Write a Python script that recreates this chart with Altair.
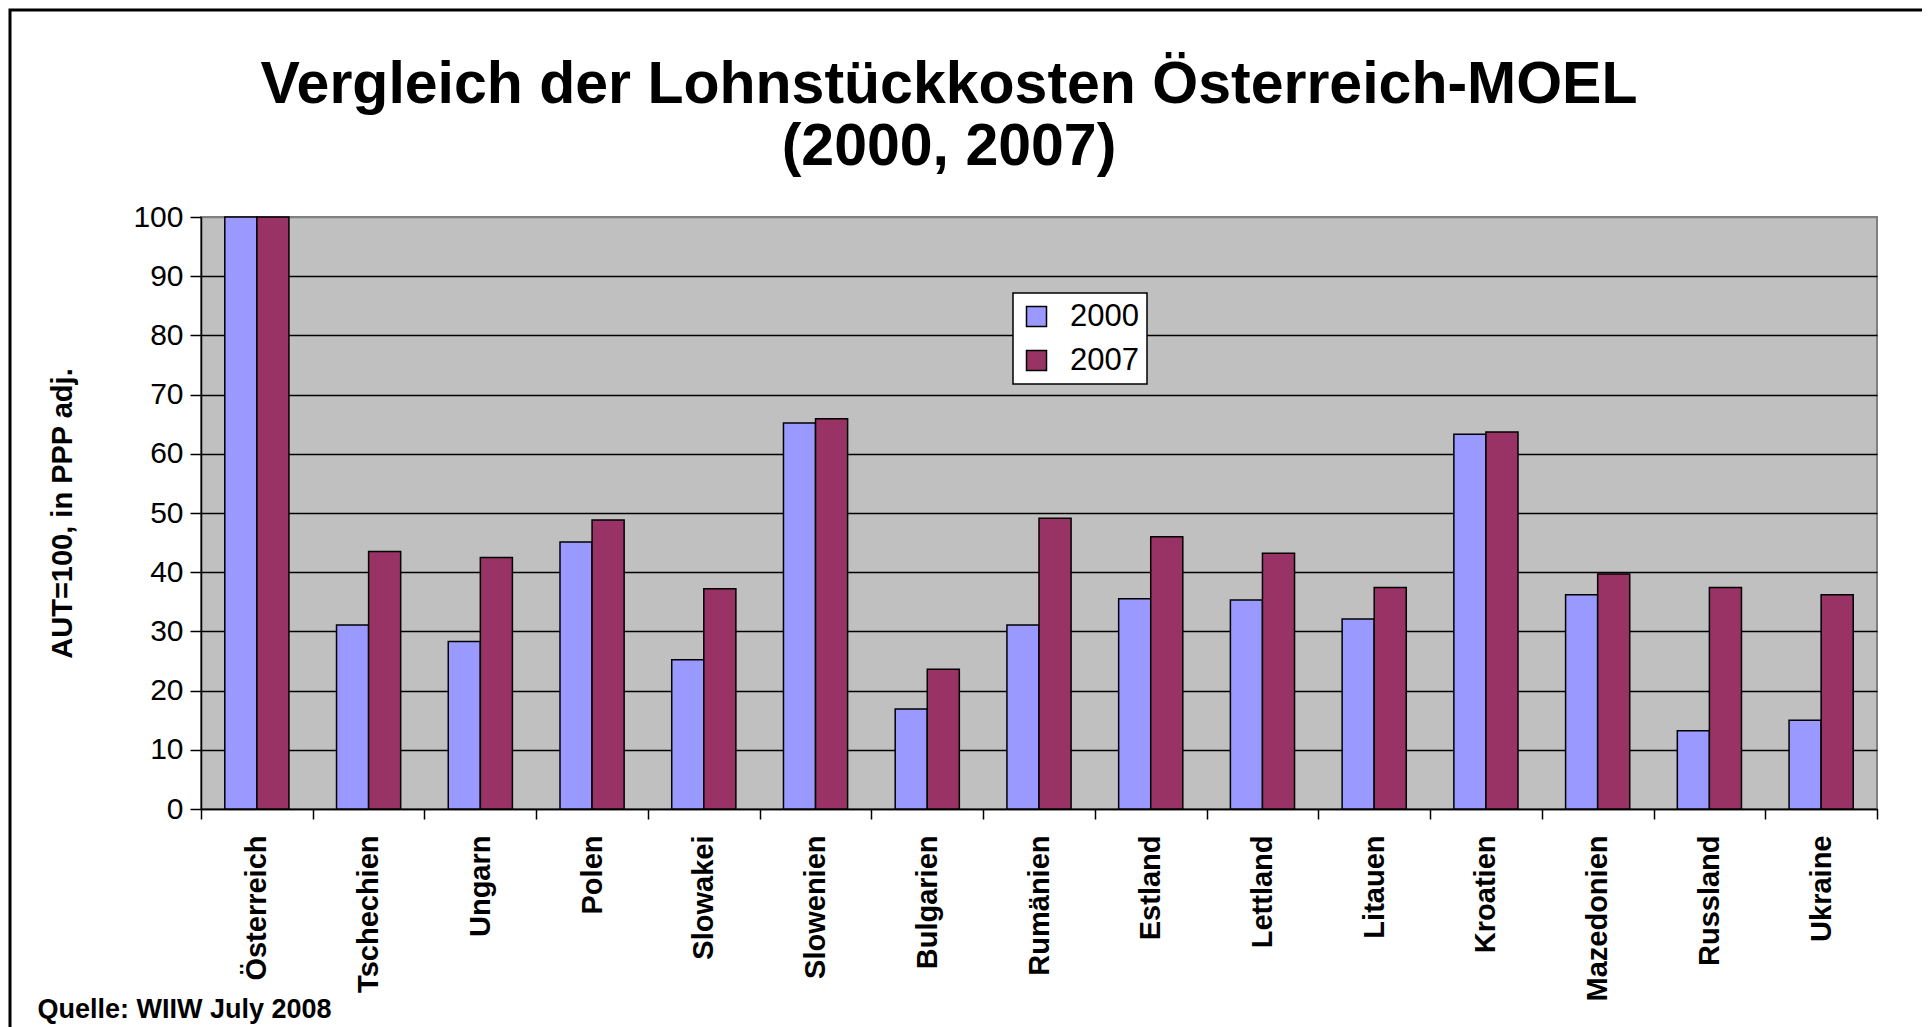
import altair as alt
import pandas as pd

categories = ["Österreich", "Tschechien", "Ungarn", "Polen", "Slowakei", "Slowenien",
              "Bulgarien", "Rumänien", "Estland", "Lettland", "Litauen", "Kroatien",
              "Mazedonien", "Russland", "Ukraine"]
years = ["2000", "2007"]
values_2000 = [100, 31.1, 28.3, 45.1, 25.2, 65.2, 16.9, 31.1, 35.5, 35.3, 32.1, 63.3, 36.2, 13.2, 15.0]
values_2007 = [100, 43.5, 42.5, 48.8, 37.2, 65.9, 23.6, 49.1, 46.0, 43.2, 37.4, 63.7, 39.7, 37.4, 36.2]
colors = ["#9999FF", "#993366"]

title_lines = ["Vergleich der Lohnstückkosten Österreich-MOEL", "(2000, 2007)"]
y_title = "AUT=100, in PPP adj."
source = "Quelle: WIIW July 2008"

rows = []
for c, a, b in zip(categories, values_2000, values_2007):
    rows.append({"Land": c, "Jahr": years[0], "Wert": a})
    rows.append({"Land": c, "Jahr": years[1], "Wert": b})
df = pd.DataFrame(rows)

W, H = 1676, 592
FONT = "Liberation Sans"

frame = alt.Chart(pd.DataFrame({"k": [0]})).mark_rect(
    fillOpacity=0, stroke="black", strokeWidth=3
).encode(
    x=alt.value(-191), x2=alt.value(W + 120),
    y=alt.value(-207), y2=alt.value(H + 260)
)

bars = alt.Chart(df).mark_bar(stroke="black", strokeWidth=1.5).encode(
    x=alt.X("Land:N", sort=categories,
            scale=alt.Scale(paddingInner=0, paddingOuter=0),
            axis=alt.Axis(title=source, labelAngle=270, labelFontSize=29,
                          labelFontWeight="bold", labelColor="black",
                          labelPadding=16, tickBand="extent", ticks=True,
                          tickSize=10, tickColor="black", tickWidth=1.5,
                          domainColor="black", domainWidth=1.5,
                          titleX=-164, titleY=208, titleAlign="left",
                          titleBaseline="alphabetic", titleFontSize=27,
                          titleFontWeight="bold", titleColor="black",
                          titleAnchor="start")),
    xOffset=alt.XOffset("Jahr:N", sort=years,
                        scale=alt.Scale(paddingOuter=0.742, paddingInner=0)),
    y=alt.Y("Wert:Q", scale=alt.Scale(domain=[0, 100], nice=False),
            axis=alt.Axis(title=y_title, values=list(range(0, 101, 10)),
                          labelFontSize=30, labelColor="black", labelPadding=7,
                          tickSize=11, tickColor="black", tickWidth=1.5,
                          domainColor="black", domainWidth=1.5,
                          grid=True, gridWidth=1.5,
                          gridColor=alt.condition("datum.value == 100",
                                                  alt.value("#808080"),
                                                  alt.value("black")),
                          titleFontSize=29, titleFontWeight="bold",
                          titleColor="black", titleAngle=270,
                          titleX=-139, titleY=H / 2, titleAlign="center",
                          titleBaseline="middle")),
    color=alt.Color("Jahr:N", sort=years,
                    scale=alt.Scale(domain=years, range=colors),
                    legend=alt.Legend(title=None, orient="none",
                                      legendX=812, legendY=76,
                                      symbolType="square", symbolSize=400,
                                      symbolStrokeColor="black",
                                      symbolStrokeWidth=1.5,
                                      labelFontSize=31, labelColor="black",
                                      labelOffset=18, rowPadding=12,
                                      padding=8, fillColor="white",
                                      strokeColor="black", cornerRadius=0)),
)

chart = alt.layer(frame, bars).properties(
    width=W, height=H,
    title=alt.TitleParams(text=title_lines, fontSize=59, font=FONT,
                          fontWeight="bold", color="black", anchor="middle",
                          frame="group", dx=-90, offset=0, dy=168,
                          lineHeight=62),
    autosize=alt.AutoSizeParams(type="none"),
    padding={"left": 193, "top": 209, "right": 45, "bottom": 225},
).configure(
    font=FONT,
    background="white",
).configure_view(
    fill="#C0C0C0", stroke="#808080", strokeWidth=2,
).configure_legend(
    strokeWidth=1.5,
)

chart.save("out.html", embed_options={"renderer": "svg", "actions": False})
